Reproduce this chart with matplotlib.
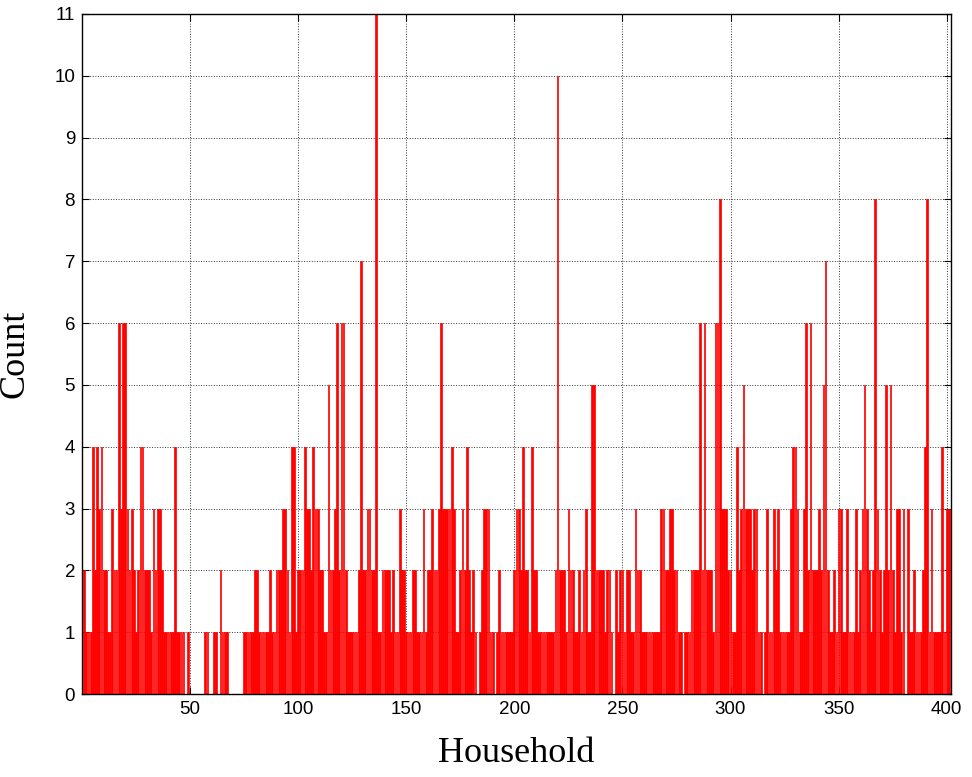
import numpy as np
from matplotlib import pyplot as plt

# household index and count per household
households = np.arange(1, 402)
counts = [
    2, 1, 1, 1, 4, 2, 4, 3, 4, 2, 2, 1, 1, 3, 2, 2, 6, 3, 6, 6,
    3, 2, 3, 2, 1, 2, 4, 4, 2, 2, 2, 1, 3, 2, 3, 3, 2, 1, 1, 1,
    1, 1, 4, 1, 1, 1, 1, 0, 1, 0, 0, 0, 0, 0, 0, 0, 1, 1, 0, 0,
    1, 1, 0, 2, 1, 1, 1, 0, 0, 0, 0, 0, 0, 0, 1, 1, 1, 1, 1, 2,
    2, 1, 1, 1, 1, 1, 2, 1, 1, 2, 2, 2, 3, 3, 2, 1, 4, 4, 1, 2,
    2, 2, 4, 3, 3, 2, 4, 3, 3, 2, 2, 1, 1, 5, 2, 2, 3, 6, 2, 6,
    6, 2, 1, 1, 1, 1, 1, 2, 7, 2, 2, 3, 3, 2, 2, 11, 1, 1, 2, 2,
    2, 2, 1, 2, 1, 1, 3, 2, 2, 1, 1, 1, 2, 2, 1, 1, 1, 3, 1, 2,
    2, 3, 2, 2, 3, 6, 3, 3, 3, 3, 4, 3, 1, 1, 2, 3, 2, 4, 2, 1,
    2, 1, 0, 1, 2, 3, 3, 3, 1, 1, 0, 1, 2, 1, 1, 1, 1, 1, 1, 2,
    3, 3, 2, 4, 2, 2, 1, 4, 2, 2, 1, 1, 1, 1, 1, 1, 1, 1, 2, 10,
    2, 2, 2, 1, 3, 2, 2, 1, 1, 2, 1, 2, 3, 1, 1, 5, 5, 2, 2, 2,
    2, 1, 2, 2, 1, 0, 2, 1, 2, 2, 1, 2, 2, 1, 1, 3, 2, 2, 1, 1,
    1, 1, 1, 1, 1, 1, 1, 3, 3, 2, 2, 3, 3, 2, 2, 1, 1, 0, 1, 1,
    1, 2, 2, 2, 2, 6, 2, 6, 2, 2, 2, 1, 6, 6, 8, 3, 3, 3, 2, 2,
    1, 1, 4, 2, 3, 5, 3, 3, 3, 2, 3, 3, 1, 1, 0, 1, 3, 1, 1, 3,
    2, 3, 1, 1, 1, 1, 1, 3, 4, 4, 3, 1, 1, 3, 6, 2, 6, 2, 2, 2,
    3, 2, 5, 7, 2, 1, 1, 2, 1, 3, 3, 1, 1, 3, 1, 1, 1, 3, 1, 2,
    3, 5, 3, 2, 1, 2, 8, 3, 2, 1, 2, 5, 2, 5, 2, 1, 3, 3, 1, 3,
    0, 3, 1, 1, 2, 1, 1, 1, 2, 4, 8, 1, 3, 1, 1, 1, 1, 4, 1, 3,
    3,
]
x_ticks = [50, 100, 150, 200, 250, 300, 350, 400]
y_ticks = list(range(0, 12))

fig = plt.figure(figsize=(9.72, 7.77), dpi=100)
ax = fig.add_axes([0.0844, 0.1068, 0.8940, 0.8752])

ax.bar(households, counts, width=0.8, color="#ff0000", edgecolor="#ff0000", linewidth=0.5, zorder=2)

ax.set_xlim(0, 402)
ax.set_ylim(0, 11)
ax.set_xticks(x_ticks)
ax.set_yticks(y_ticks)

ax.grid(True, linestyle=":", color="#333333", linewidth=0.7, zorder=0)
ax.set_axisbelow(True)

ax.tick_params(direction="in", top=True, right=True, length=5, width=0.8,
               labelsize=13.5, colors="black", pad=5)
for lab in ax.get_xticklabels() + ax.get_yticklabels():
    lab.set_family("Liberation Sans")
for sp in ax.spines.values():
    sp.set_linewidth(1.0)

ax.set_xlabel("Household", fontsize=26, family="Liberation Serif", labelpad=14)
ax.set_ylabel("Count", fontsize=26, family="Liberation Serif", labelpad=16)

plt.savefig("out.png", dpi=100)
